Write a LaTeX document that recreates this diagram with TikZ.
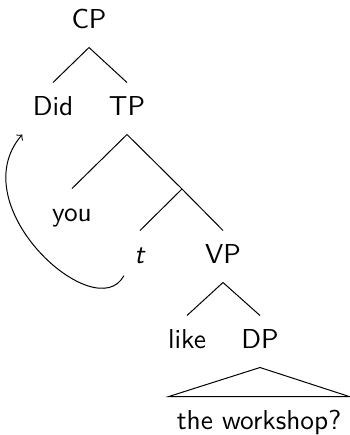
\documentclass[tikz,border=0pt]{standalone}
\usepackage{tikz}
\usetikzlibrary{positioning,arrows}

\begin{document}
\begin{tikzpicture}[x=0.4pt,y=-0.4pt,font=\fontsize{10.95}{13}\sffamily,
	every node/.style={anchor=base,inner sep=4pt,text height=8.8pt,text depth=3.6pt}]
	\useasboundingbox (0,0) rectangle (350,435);
	\node (cp) at (89,28) {CP};
	\node (did) at (53,115) {Did};
	\node (tp) at (127,115) {TP};
	\node (you) at (72,221) {you};
	\coordinate (tbar) at (182,189);
	\node (t) at (140,263) {\textsl{t}};
	\node (vp) at (223,263) {VP};
	\node (like) at (187,348) {like};
	\node (dp) at (260,348) {DP};
	\node[inner xsep=3pt] (ws) at (259,429) {the workshop?};

	\draw (cp.south) -- (did.north);
	\draw (cp.south) -- (tp.north);
	\draw (tp.south) -- (you.north);
	\draw (tp.south) -- (tbar) -- (vp.north);
	\draw (tbar) -- (t.north);
	\draw (vp.south) -- (like.north);
	\draw (vp.south) -- (dp.north);
	\draw (dp.south) -- (ws.north west) -- (ws.north east) -- cycle;
	%\draw[->] (t) to[out=230,in=240] (did);
	\draw[->] (t.230) .. controls +(-28,52) and +(-62,72) .. (did.south west);
\end{tikzpicture}
\end{document}
